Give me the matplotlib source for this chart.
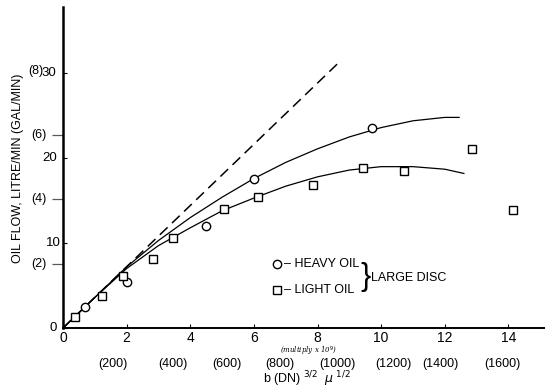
import numpy as np
import matplotlib
matplotlib.use("Agg")
import matplotlib.pyplot as plt
from matplotlib import transforms

plt.rcParams["font.family"] = ["Liberation Sans", "DejaVu Sans"]

heavy_x = [0.69, 2.01, 4.50, 6.01, 9.72]
heavy_y = [2.5, 5.4, 12.0, 17.5, 23.5]
light_x = [0.38, 1.23, 1.89, 2.83, 3.46, 5.06, 6.13, 7.86, 9.43, 10.72, 12.86, 14.15]
light_y = [1.3, 3.8, 6.1, 8.1, 10.6, 14.0, 15.4, 16.8, 18.9, 18.5, 21.1, 13.9]

# faired curves
heavy_cx = [0, 1, 2, 3, 4, 5, 6, 7, 8, 9, 10, 11, 12, 12.45]
heavy_cy = [0, 3.6, 7.2, 10.3, 13.0, 15.4, 17.6, 19.5, 21.1, 22.5, 23.6, 24.4, 24.8, 24.8]
light_cx = [0, 1, 2, 3, 4, 5, 6, 7, 8, 9, 10, 11, 12, 12.6]
light_cy = [0, 3.6, 7.0, 9.7, 11.8, 13.8, 15.3, 16.7, 17.8, 18.6, 19.0, 19.0, 18.7, 18.2]
dash_x = [0, 8.68]
dash_y = [0, 31.3]

x_ticks = [0, 2, 4, 6, 8, 10, 12, 14]
litre_ticks = [0, 10, 20, 30]
gal_ticks = [2, 4, 6, 8]
sec_pos = [1.57, 3.46, 5.16, 6.82, 8.62, 10.38, 11.86, 13.8]
sec_labels = ["(200)", "(400)", "(600)", "(800)", "(1000)", "(1200)", "(1400)", "(1600)"]

L_PER_GAL = 3.785

fig = plt.figure(figsize=(5.45, 3.9), dpi=100)
ax = fig.add_axes([63 / 545, 62 / 390, 482 / 545, 321 / 390])

ax.plot(dash_x, dash_y, color="k", lw=1.1, dashes=(7, 4))
ax.plot(heavy_cx, heavy_cy, color="k", lw=0.9)
ax.plot(light_cx, light_cy, color="k", lw=0.9)
ax.plot(heavy_x, heavy_y, "o", ms=6, mfc="white", mec="k", mew=1.0)
ax.plot(light_x, light_y, "s", ms=6, mfc="white", mec="k", mew=1.0)

ax.set_xlim(0, 15.15)
ax.set_ylim(0, 37.8)
for s in ["top", "right"]:
    ax.spines[s].set_visible(False)
ax.spines["left"].set_linewidth(1.8)
ax.spines["bottom"].set_linewidth(1.4)

ax.set_xticks(x_ticks)
ax.set_xticklabels([str(v) for v in x_ticks])
ax.tick_params(axis="x", direction="in", length=3, pad=2.5, labelsize=10)

trans = transforms.blended_transform_factory(ax.transAxes, ax.transData)

def left_label(yval, text, gap_px, size):
    off = transforms.ScaledTranslation(-gap_px / 100, 0, fig.dpi_scale_trans)
    ax.text(0, yval, text, transform=trans + off, ha="right", va="center", fontsize=size)

# litre labels, each nudged a little as in the original
ax.set_yticks(litre_ticks)
ax.set_yticklabels([])
ax.tick_params(axis="y", direction="in", length=3)
for v, g in zip(litre_ticks, [6, 2, 6, 7]):
    left_label(v, str(v), g, 9.5)

# gallon scale: outward ticks, labels placed by hand
gal = ax.secondary_yaxis("left", functions=(lambda v: v / L_PER_GAL, lambda v: v * L_PER_GAL))
gal.set_yticks(gal_ticks)
gal.set_yticklabels([])
gal.tick_params(direction="out", length=8, width=0.9, color="0.35")
gal.spines["left"].set_visible(False)
gal.yaxis.get_major_ticks()[-1].tick1line.set_visible(False)
for v, g in zip(gal_ticks, [16, 16, 16, 20]):
    left_label(v * L_PER_GAL, "(%d)" % v, g, 9)

sec = ax.secondary_xaxis(-0.095)
sec.set_xticks(sec_pos)
sec.set_xticklabels(sec_labels)
sec.tick_params(length=0, pad=0, labelsize=9)
sec.spines["bottom"].set_visible(False)

# legend drawn by hand
ax.plot([0.444], [0.199], "o", ms=6, mfc="white", mec="k", mew=1.0, transform=ax.transAxes, clip_on=False)
ax.plot([0.444], [0.118], "s", ms=6, mfc="white", mec="k", mew=1.0, transform=ax.transAxes, clip_on=False)
ax.text(0.458, 0.199, "– HEAVY OIL", transform=ax.transAxes, va="center", fontsize=9)
ax.text(0.458, 0.118, "– LIGHT OIL", transform=ax.transAxes, va="center", fontsize=9)
ax.text(0.617, 0.158, "}", transform=ax.transAxes, va="center", fontsize=22, fontweight="light")
ax.text(0.638, 0.156, "LARGE DISC", transform=ax.transAxes, va="center", fontsize=9)

fig.text(18 / 545, 1 - 168 / 390, "OIL FLOW, LITRE/MIN (GAL/MIN)", rotation=90,
         ha="center", va="center", fontsize=9)
fig.text(308 / 545, 1 - 351 / 390, r"(multiply x 10$^9$)", ha="center", va="center",
         fontsize=5, style="italic", family="DejaVu Serif")
fig.text(307 / 545, 1 - 379 / 390, r"b (DN) $^{3/2}$  $\mu$ $^{1/2}$", ha="center", va="center",
         fontsize=9)

fig.savefig("out.png", dpi=100)
